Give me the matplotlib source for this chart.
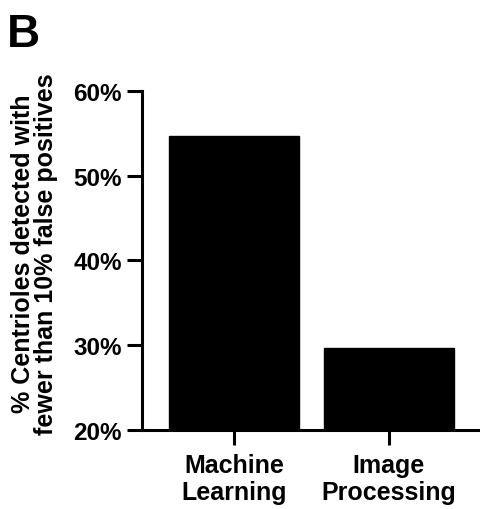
import matplotlib.pyplot as plt
from matplotlib.ticker import FuncFormatter

plt.rcParams['font.family'] = ['Liberation Sans', 'DejaVu Sans']
plt.rcParams['font.weight'] = 'bold'

methods = ['Machine\nLearning', 'Image\nProcessing']
detected = [54.7, 29.7]
yticks = [20, 30, 40, 50, 60]

fig = plt.figure(figsize=(4.8, 5.1), dpi=100)
ax = fig.add_axes([0.296, 0.155, 0.704, 0.665])

ax.bar(range(len(methods)), detected, width=0.84, color='black', edgecolor='black')

ax.set_ylim(20, 60)
ax.set_xlim(-0.594, 1.59)
ax.set_yticks(yticks)
ax.yaxis.set_major_formatter(FuncFormatter(lambda v, p: f'{v:.0f}%'))
ax.set_xticks(range(len(methods)))
ax.set_xticklabels(methods, fontsize=18, fontweight='bold', linespacing=1.15)
for lab in ax.get_yticklabels():
    lab.set_fontsize(17.5)
    lab.set_fontweight('bold')

for side in ['top', 'right']:
    ax.spines[side].set_visible(False)
for side in ['left', 'bottom']:
    ax.spines[side].set_linewidth(2.2)
ax.tick_params(axis='both', width=2.2, length=10.5, pad=4)
ax.tick_params(axis='x', pad=6)

fig.text(0.072, 0.502, '% Centrioles detected with\nfewer than 10% false positives',
         rotation=90, ha='center', va='center', fontsize=18, fontweight='bold',
         linespacing=0.97)
fig.text(0.015, 0.975, 'B', fontsize=33, fontweight='bold', va='top', ha='left')

fig.savefig('out.png', dpi=100)
